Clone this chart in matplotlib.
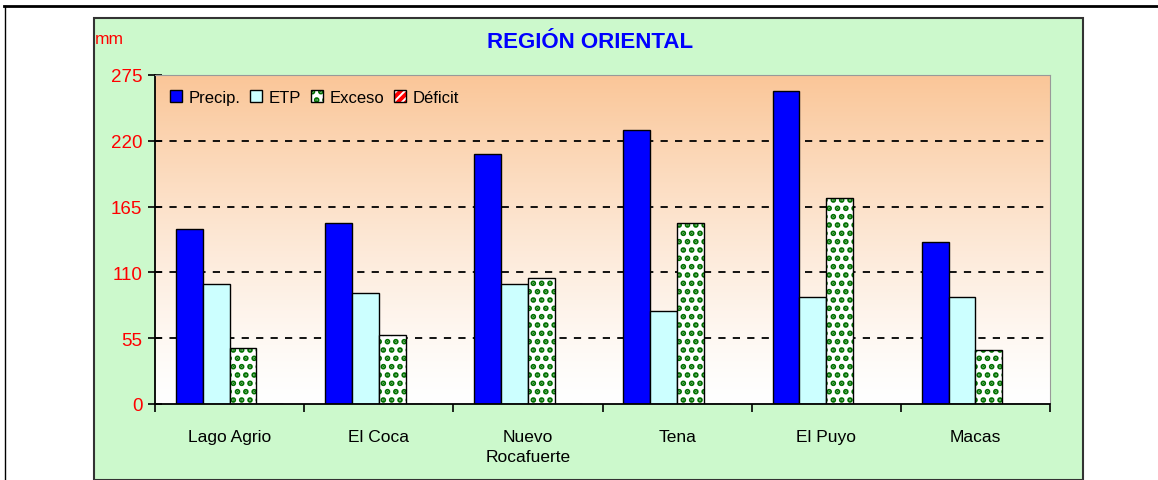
"""Region Oriental - monthly water balance bars (Precip, ETP, Exceso, Deficit)."""
import numpy as np
import matplotlib
matplotlib.use("Agg")
import matplotlib.pyplot as plt
from matplotlib.patches import Rectangle
from matplotlib.legend_handler import HandlerTuple
from matplotlib.lines import Line2D

STATIONS = ["Lago Agrio", "El Coca", "Nuevo\nRocafuerte", "Tena", "El Puyo", "Macas"]
PRECIP = [146.5, 151, 209, 229, 262, 135]
ETP = [100.5, 92.5, 100.5, 78, 89.5, 89.5]
EXCESO = [46.5, 58, 105, 151, 172, 45]
DEFICIT = [0, 0, 0, 0, 0, 0]
Y_TICKS = [0, 55, 110, 165, 220, 275]

W, H = 1158, 481
plt.rcParams["font.family"] = ["Liberation Sans", "DejaVu Sans"]
plt.rcParams["hatch.linewidth"] = 2.8

fig = plt.figure(figsize=(W / 100, H / 100), dpi=100)
fig.patch.set_facecolor("white")


def fx(px):
    return px / W


def fy(py):
    return 1 - py / H


# outer frame lines
fig.add_artist(Line2D([fx(4), 1], [fy(7), fy(7)], color="black", lw=2))
fig.add_artist(Line2D([fx(5), fx(5)], [0, fy(7)], color="black", lw=1))
# green chart panel
fig.add_artist(Rectangle((fx(94), 0), fx(1083) - fx(94), fy(19), facecolor="#CCF9CC",
                         edgecolor="#333333", lw=1.5, zorder=0))

ax = fig.add_axes([fx(155), fy(405), fx(1050) - fx(155), fy(76) - fy(405)])
ax.set_xlim(-0.5, len(STATIONS) - 0.5)
ax.set_ylim(0, 275)

# orange-to-white gradient background
grad = np.linspace(0, 1, 256).reshape(-1, 1) ** 1.3
top = np.array([250, 198, 152]) / 255
img = 1 - grad[..., None] * (1 - top)
ax.imshow(img, extent=[-0.5, len(STATIONS) - 0.5, 0, 275], origin="lower",
          aspect="auto", zorder=0)

for y in Y_TICKS[1:-1]:
    ax.axhline(y, color="black", ls=(0, (4, 4)), lw=1.3, zorder=1)

x = np.arange(len(STATIONS))
bw = 0.18
ax.bar(x - 1.5 * bw, PRECIP, bw, color="#0000FF", edgecolor="black", lw=1, zorder=2)
ax.bar(x - 0.5 * bw, ETP, bw, color="#CCFFFF", edgecolor="black", lw=1, zorder=2)
ax.bar(x + 0.5 * bw, EXCESO, bw, color="white", edgecolor="#007000", lw=0, hatch="..", zorder=2)
ax.bar(x + 0.5 * bw, EXCESO, bw, fill=False, edgecolor="black", lw=1, zorder=3)
ax.bar(x + 1.5 * bw, DEFICIT, bw, color="red", edgecolor="black", lw=1, zorder=2)

# axes styling
for side in ("top", "right"):
    ax.spines[side].set_color("#999999")
for side in ("left", "bottom"):
    ax.spines[side].set_color("black")
    ax.spines[side].set_linewidth(1.3)
ax.set_yticks(Y_TICKS)
ax.tick_params(axis="y", direction="inout", length=10, width=1.2, colors="black",
               labelcolor="red", labelsize=13.5, pad=4)
ax.set_xticks(np.arange(len(STATIONS) + 1) - 0.5)
ax.set_xticklabels([])
ax.tick_params(axis="x", which="major", direction="out", length=6, width=1.2)
ax.set_xticks(x, minor=True)
ax.set_xticklabels(STATIONS, minor=True, fontsize=12.5, va="top", linespacing=1.45)
ax.tick_params(axis="x", which="minor", length=0, pad=18)

fig.text(fx(590), fy(43), "REGIÓN ORIENTAL", color="#0000FF", fontsize=16,
         fontweight="bold", ha="center", va="center")
fig.text(fx(95), fy(40), "mm", color="red", fontsize=12.5, ha="left", va="center")

# legend
h_pre = Rectangle((0, 0), 1, 1, facecolor="#0000FF", edgecolor="black")
h_etp = Rectangle((0, 0), 1, 1, facecolor="#CCFFFF", edgecolor="black")
h_exc = (Rectangle((0, 0), 1, 1, facecolor="white", edgecolor="#007000", lw=0, hatch=".."),
         Rectangle((0, 0), 1, 1, fill=False, edgecolor="black"))
h_def = (Rectangle((0, 0), 1, 1, facecolor="white", edgecolor="red", lw=0, hatch="////"),
         Rectangle((0, 0), 1, 1, fill=False, edgecolor="black"))
ax.legend([h_pre, h_etp, h_exc, h_def], ["Precip.", "ETP", "Exceso", "Déficit"],
          handler_map={tuple: HandlerTuple(ndivide=1, pad=0)},
          loc="upper left", bbox_to_anchor=(0.0, 1.0), ncol=4, frameon=False,
          fontsize=12, handlelength=0.7, handleheight=0.7, handletextpad=0.4,
          columnspacing=0.6, borderaxespad=0.5)

fig.savefig("out.png", dpi=100)
